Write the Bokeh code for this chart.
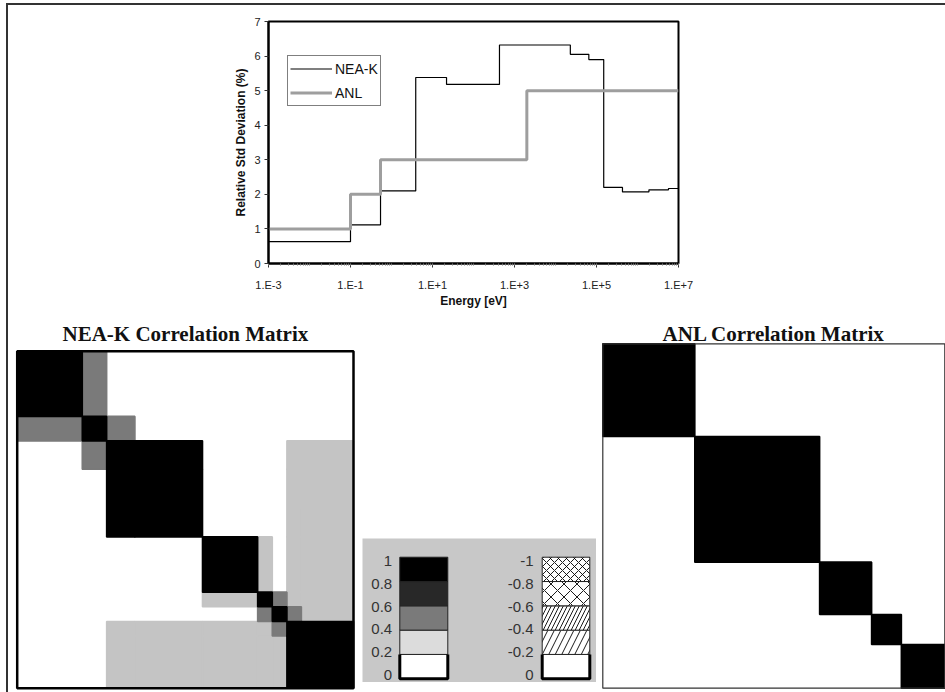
from bokeh.plotting import figure
from bokeh.models import (Range1d, FixedTicker, Legend, LegendItem, ColumnDataSource, Spacer)
from bokeh.layouts import column, row
from bokeh.transform import linear_cmap
from bokeh.core.properties import value
from bokeh.embed import file_html
from bokeh.resources import INLINE

# ---------------- data ----------------
nea_edges = [1e-3, 0.1, 0.54, 3.9, 22, 430, 2.3e4, 6.5e4, 1.5e5, 4.3e5, 1.9e6, 5.7e6, 1e7]
nea_std = [0.63, 1.12, 2.1, 5.38, 5.18, 6.32, 6.05, 5.9, 2.2, 2.07, 2.13, 2.17]
anl_edges = [1e-3, 0.1, 0.54, 2.0e3, 1e7]
anl_std = [1.0, 2.0, 3.0, 5.0]

x_tick_values = [1e-3, 1e-1, 1e1, 1e3, 1e5, 1e7]
x_tick_labels = ["1.E-3", "1.E-1", "1.E+1", "1.E+3", "1.E+5", "1.E+7"]
y_tick_values = [0, 1, 2, 3, 4, 5, 6, 7]

# correlation matrices: block edges (group index scale 0-100) and block correlations
nea_block_edges = [0, 19.35, 26.6, 35.0, 55.1, 71.5, 75.85, 80.2, 84.5, 100]
nea_block_corr = [
    [1.0, 0.5, 0.0, 0.0, 0.0, 0.0, 0.0, 0.0, 0.0],
    [0.5, 1.0, 0.5, 0.0, 0.0, 0.0, 0.0, 0.0, 0.0],
    [0.0, 0.5, 1.0, 1.0, 0.0, 0.0, 0.0, 0.3, 0.3],
    [0.0, 0.0, 1.0, 1.0, 0.0, 0.0, 0.0, 0.3, 0.3],
    [0.0, 0.0, 0.0, 0.0, 1.0, 0.3, 0.0, 0.3, 0.3],
    [0.0, 0.0, 0.0, 0.0, 0.3, 1.0, 0.5, 0.3, 0.3],
    [0.0, 0.0, 0.0, 0.0, 0.0, 0.5, 1.0, 0.5, 0.3],
    [0.0, 0.0, 0.3, 0.3, 0.3, 0.3, 0.5, 1.0, 1.0],
    [0.0, 0.0, 0.3, 0.3, 0.3, 0.3, 0.3, 1.0, 1.0],
]
anl_block_edges = [0, 26.9, 63.4, 78.6, 87.3, 100]
anl_block_corr = [
    [1.0, 0.0, 0.0, 0.0, 0.0],
    [0.0, 1.0, 0.0, 0.0, 0.0],
    [0.0, 0.0, 1.0, 0.0, 0.0],
    [0.0, 0.0, 0.0, 1.0, 0.0],
    [0.0, 0.0, 0.0, 0.0, 1.0],
]
matrix_palette = ["#ffffff", "#c4c4c4", "#7a7a7a", "#282828", "#000000"]

legend_levels = [0, 0.2, 0.4, 0.6, 0.8, 1.0]
legend_pos_labels = ["0", "0.2", "0.4", "0.6", "0.8", "1"]
legend_neg_labels = ["0", "-0.2", "-0.4", "-0.6", "-0.8", "-1"]
legend_pos_colors = ["#ffffff", "#dcdcdc", "#7a7a7a", "#282828", "#000000"]
legend_neg_hatch = [" ", "/", "/", "x", "x"]
legend_neg_hatch_scale = [12, 13, 8, 13, 8]

SANS = "Liberation Sans"
SERIF = "Liberation Serif"

# ---------------- top step chart ----------------
p1 = figure(width=937, height=305, x_axis_type="log",
            x_range=Range1d(1e-3, 1e7), y_range=Range1d(0, 7),
            output_backend="svg", toolbar_location=None,
            min_border_left=260, min_border_right=267,
            min_border_top=16, min_border_bottom=47)
p1.xgrid.visible = False
p1.ygrid.visible = False
p1.outline_line_color = "black"
p1.outline_line_width = 2
p1.outline_line_alpha = 1

r_nea = p1.step(nea_edges, nea_std + [nea_std[-1]], mode="after",
                line_color="black", line_width=1.2)
r_anl = p1.step(anl_edges, anl_std + [anl_std[-1]], mode="after",
                line_color="#9e9e9e", line_width=3)

minor = [k * 10.0 ** n for n in range(-3, 7) for k in range(2, 10)]
minor += [10.0 ** n for n in range(-3, 8)]
p1.xaxis.ticker = FixedTicker(ticks=x_tick_values, minor_ticks=minor)
p1.xaxis.major_label_overrides = dict(zip(x_tick_values, x_tick_labels))
p1.yaxis.ticker = FixedTicker(ticks=y_tick_values, minor_ticks=[])

for ax in (p1.xaxis[0], p1.yaxis[0]):
    ax.axis_line_width = 2
    ax.axis_line_color = "black"
    ax.major_tick_in = 0
    ax.major_tick_out = 4
    ax.minor_tick_in = 0
    ax.minor_tick_out = 2
    ax.major_tick_line_color = "#333333"
    ax.minor_tick_line_color = "#777777"
    ax.major_label_text_font = SANS
    ax.major_label_text_font_size = "11px"
    ax.major_label_text_color = "#222222"
    ax.axis_label_text_font = SANS
    ax.axis_label_text_font_size = "12px"
    ax.axis_label_text_font_style = "bold"
    ax.axis_label_text_color = "#111111"

p1.xaxis.axis_label = "Energy [eV]"
p1.yaxis.axis_label = "Relative Std Deviation (%)"
p1.xaxis.major_label_standoff = 11
p1.xaxis.axis_label_standoff = 0
p1.yaxis.major_label_standoff = 4
p1.yaxis.axis_label_standoff = 3

legend = Legend(items=[LegendItem(label="NEA-K", renderers=[r_nea]),
                       LegendItem(label="ANL", renderers=[r_anl])],
                location=(19, 157), margin=0, padding=2, spacing=3,
                glyph_width=42, glyph_height=21, label_height=21,
                label_standoff=3,
                label_text_font=SANS, label_text_font_size="14px",
                label_text_color="#111111",
                border_line_color="black", border_line_width=1,
                background_fill_color="white", background_fill_alpha=1)
p1.add_layout(legend)


# ---------------- correlation matrices ----------------
def matrix_figure(edges, corr, title, fig_w, fig_h, box_left, box_top, box_w, box_h,
                  title_cy, outline_w, outline_c):
    """Figure whose frame is the whole canvas; the matrix occupies the pixel box
    (box_left, box_top, box_w, box_h) and the title sits above it."""
    lo, hi = edges[0], edges[-1]
    ux = (hi - lo) / box_w
    uy = (hi - lo) / box_h
    x0 = lo - box_left * ux
    y_top = lo - box_top * uy
    cells = []
    n = len(edges) - 1
    for i in range(n):
        for j in range(n):
            if corr[i][j] > 0:
                cells.append((corr[i][j], edges[j], edges[j + 1], edges[i], edges[i + 1]))
    cells.sort(key=lambda c: c[0])   # darker cells drawn last
    src = ColumnDataSource(dict(corr=[c[0] for c in cells],
                                left=[c[1] for c in cells],
                                right=[c[2] for c in cells],
                                top=[c[3] for c in cells],
                                bottom=[c[4] for c in cells]))
    p = figure(width=fig_w, height=fig_h,
               x_range=Range1d(x0, x0 + fig_w * ux),
               y_range=Range1d(y_top + fig_h * uy, y_top),
               x_axis_type=None, y_axis_type=None,
               output_backend="svg", toolbar_location=None, min_border=0,
               outline_line_color=None)
    cmap = linear_cmap("corr", matrix_palette, 0, 1)
    p.quad(left="left", right="right", top="top", bottom="bottom", source=src,
           fill_color=cmap, line_color=cmap, line_width=1.6)
    # matrix border
    p.quad(left=[lo], right=[hi], top=[lo], bottom=[hi], fill_color=None,
           line_color=outline_c, line_width=outline_w)
    p.text(x=[(lo + hi) / 2], y=[lo - (box_top - title_cy) * uy], text=[title],
           text_align="center", text_baseline="middle",
           text_font=value(SERIF), text_font_size="21px", text_font_style="bold",
           text_color="#111111")
    return p


nea_fig = matrix_figure(nea_block_edges, nea_block_corr, "NEA-K Correlation Matrix",
                        354, 382, 8.7, 40.7, 336.3, 337, 23, 2.5, "black")
anl_fig = matrix_figure(anl_block_edges, anl_block_corr, "ANL Correlation Matrix",
                        349, 382, 6.3, 33.3, 342, 344.4, 23, 1.2, "#333333")

# ---------------- colour key ----------------
pl = figure(width=234, height=144, x_range=Range1d(0, 234),
            y_range=Range1d(-0.031, 1.154),
            x_axis_type=None, y_axis_type=None,
            output_backend="svg", toolbar_location=None, min_border=0,
            background_fill_color="#c8c8c8", border_fill_color="#c8c8c8",
            outline_line_color=None)
# the key's labels sit on their own (Excel-like) label scale
pl.extra_y_ranges = {"labels": Range1d(-0.0706, 1.2003)}

# positive bar
pos_src = ColumnDataSource(dict(bottom=legend_levels[:-1], top=legend_levels[1:],
                                color=legend_pos_colors))
pl.quad(left=37.3, right=85.3, bottom="bottom", top="top", source=pos_src,
        fill_color="color", line_color="#222222", line_width=1)
pl.line(x=[37.3, 37.3, 85.3, 85.3],
        y=[legend_levels[1], legend_levels[0], legend_levels[0], legend_levels[1]],
        line_color="black", line_width=3)
pl.text(x=[29.7] * len(legend_levels), y=legend_levels, text=legend_pos_labels,
        y_range_name="labels",
        text_align="right", text_baseline="middle",
        text_font=value(SANS), text_font_size="15px", text_color="#333333")

# negative bar (drawn by magnitude)
neg_src = ColumnDataSource(dict(bottom=legend_levels[:-1], top=legend_levels[1:],
                                hatch=legend_neg_hatch, scale=legend_neg_hatch_scale))
pl.quad(left=179.7, right=227.3, bottom="bottom", top="top", source=neg_src,
        fill_color="white", line_color="#222222", line_width=1,
        hatch_pattern="hatch", hatch_scale="scale", hatch_color="black",
        hatch_weight=0.9)
pl.line(x=[179.7, 179.7, 227.3, 227.3],
        y=[legend_levels[1], legend_levels[0], legend_levels[0], legend_levels[1]],
        line_color="black", line_width=3)
pl.text(x=[171] * len(legend_levels), y=legend_levels, text=legend_neg_labels,
        y_range_name="labels",
        text_align="right", text_baseline="middle",
        text_font=value(SANS), text_font_size="15px", text_color="#333333")

key_col = column(Spacer(width=234, height=228), pl)

bottom_row = row(nea_fig, key_col, anl_fig)
layout = column(p1, bottom_row, margin=(5, 0, 0, 8),
                styles={"outline": "2px solid #333333"})

open("out.html", "w").write(file_html(layout, INLINE))
